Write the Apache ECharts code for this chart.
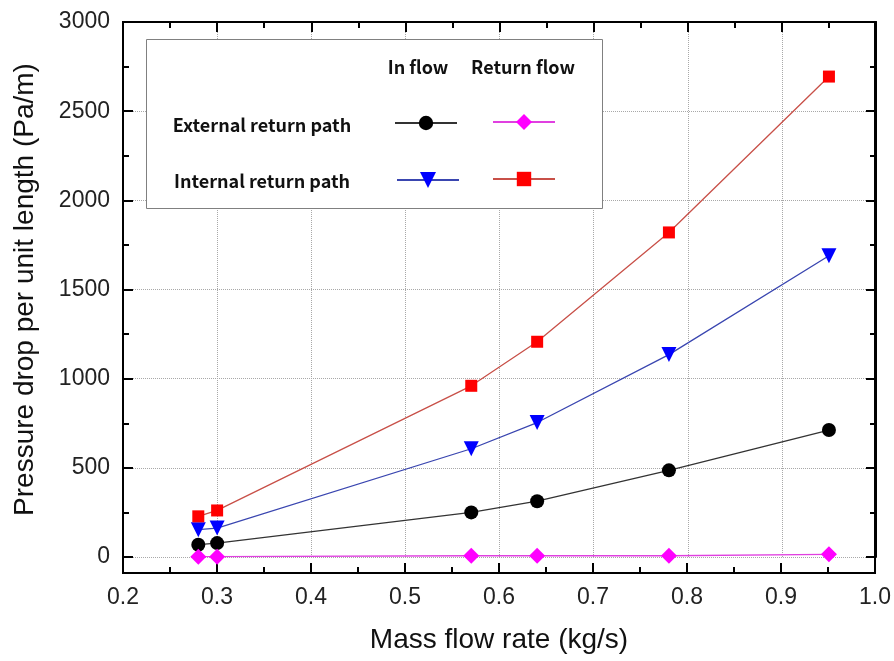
<!DOCTYPE html>
<html>
<head>
<meta charset="utf-8">
<script src="https://cdn.jsdelivr.net/npm/echarts@6/dist/echarts.min.js"></script>
<style>
  html, body { margin: 0; padding: 0; background: #fff; }
  #chart { width: 894px; height: 661px; }
</style>
</head>
<body>
<div id="chart"></div>
<script>
  // data
  const massFlow = [0.28, 0.30, 0.57, 0.64, 0.78, 0.95];
  const extInFlow = [69, 78, 250, 313, 486, 712];
  const extReturnFlow = [2, 2, 7, 7, 7, 15];
  const intInFlow = [153, 162, 607, 754, 1135, 1689];
  const intReturnFlow = [228, 261, 960, 1207, 1820, 2694];

  const legendCols = ['In flow', 'Return flow'];
  const legendRows = ['External return path', 'Internal return path'];

  const tickFont = 'Liberation Sans, Arial, sans-serif';
  const legendFont = '"Noto Sans CJK KR", "Open Sans", sans-serif';

  function pairs(vals) {
    return massFlow.map(function (x, i) { return [x, vals[i]]; });
  }

  function makeSeries(name, vals, symbol, size, markColor, lineColor, rotate) {
    return {
      name: name,
      type: 'line',
      xAxisIndex: 0,
      yAxisIndex: 0,
      data: pairs(vals),
      symbol: symbol,
      symbolSize: size,
      symbolRotate: rotate || 0,
      showAllSymbol: true,
      itemStyle: { color: markColor, opacity: 1 },
      lineStyle: { color: lineColor, width: 1.3 },
      emphasis: { disabled: true },
      z: 3
    };
  }

  // legend: one component per cell of the 2x2 table
  function cellLegend(name, left, top, h) {
    return {
      data: [name],
      left: left,
      top: top,
      padding: 0,
      itemWidth: 62,
      itemHeight: h,
      formatter: function () { return ''; },
      textStyle: { fontSize: 1 },
      selectedMode: false,
      z: 20
    };
  }

  // fresh objects every time, echarts doesn't like axes sharing one
  function ticks() {
    return { show: true, inside: true, length: 10, lineStyle: { color: '#000', width: 2 } };
  }
  function minorTicks() {
    return { show: true, splitNumber: 2, length: 6, lineStyle: { color: '#000', width: 2 } };
  }
  function frameLine() {
    return { show: true, onZero: false, lineStyle: { color: '#000', width: 2 } };
  }
  function gridLine() {
    return { show: true, lineStyle: { type: 'dotted', color: '#a8a8a8', width: 1 } };
  }

  const chart = echarts.init(document.getElementById('chart'));
  const option = {
    animation: false,
    grid: [
      // data area
      { left: 123, right: 18, top: 22, bottom: 104 },
      // outer frame, a bit lower than y = 0
      { left: 123, right: 18, top: 22, bottom: 88, show: true, borderColor: '#000', borderWidth: 2, backgroundColor: 'rgba(0,0,0,0)' }
    ],
    xAxis: [
      {
        type: 'value', gridIndex: 0, position: 'bottom',
        min: 0.2, max: 1.0, interval: 0.1,
        axisLine: { show: false, onZero: false },
        axisTick: { show: false },
        axisLabel: { show: false },
        splitLine: gridLine()
      },
      {
        type: 'value', gridIndex: 0, position: 'top',
        min: 0.2, max: 1.0, interval: 0.1,
        axisLine: frameLine(),
        axisTick: ticks(),
        minorTick: minorTicks(),
        axisLabel: { show: false },
        splitLine: { show: false }
      },
      {
        type: 'value', gridIndex: 1, position: 'bottom',
        min: 0.2, max: 1.0, interval: 0.1,
        name: 'Mass flow rate (kg/s)', nameLocation: 'middle', nameGap: 53,
        nameTextStyle: { fontFamily: tickFont, fontSize: 28, color: '#111' },
        axisLine: frameLine(),
        axisTick: ticks(),
        minorTick: minorTicks(),
        axisLabel: {
          margin: 13, fontFamily: tickFont, fontSize: 23, color: '#222',
          formatter: function (v) { return v.toFixed(1); }
        },
        splitLine: { show: false }
      }
    ],
    yAxis: [
      {
        type: 'value', gridIndex: 0, position: 'left',
        min: 0, max: 3000, interval: 500,
        name: 'Pressure drop per unit length (Pa/m)', nameLocation: 'middle', nameGap: 84,
        nameTextStyle: { fontFamily: tickFont, fontSize: 28, color: '#111' },
        axisLine: frameLine(),
        axisTick: ticks(),
        minorTick: minorTicks(),
        axisLabel: {
          margin: 13, fontFamily: tickFont, fontSize: 23, color: '#222',
          formatter: function (v) { return String(v); }
        },
        splitLine: gridLine()
      },
      {
        type: 'value', gridIndex: 0, position: 'right',
        min: 0, max: 3000, interval: 500,
        axisLine: frameLine(),
        axisTick: ticks(),
        minorTick: minorTicks(),
        axisLabel: { show: false },
        splitLine: { show: false }
      },
      { type: 'value', gridIndex: 1, show: false, min: 0, max: 1 }
    ],
    legend: [
      cellLegend(legendRows[0] + ' / ' + legendCols[0], 394, 114, 18),
      cellLegend(legendRows[0] + ' / ' + legendCols[1], 492, 112, 20),
      cellLegend(legendRows[1] + ' / ' + legendCols[0], 396, 170, 20),
      cellLegend(legendRows[1] + ' / ' + legendCols[1], 492, 170, 18)
    ],
    graphic: [
      { type: 'rect', z: 15, shape: { x: 146.5, y: 39.5, width: 456, height: 169 },
        style: { fill: '#fff', stroke: '#808080', lineWidth: 1 } },
      { type: 'text', z: 16, x: 418, y: 67,
        style: { text: legendCols[0], font: 'bold 18px ' + legendFont, fill: '#111', align: 'center', verticalAlign: 'middle' } },
      { type: 'text', z: 16, x: 523, y: 67,
        style: { text: legendCols[1], font: 'bold 18px ' + legendFont, fill: '#111', align: 'center', verticalAlign: 'middle' } },
      { type: 'text', z: 16, x: 262, y: 125,
        style: { text: legendRows[0], font: 'bold 18px ' + legendFont, fill: '#111', align: 'center', verticalAlign: 'middle' } },
      { type: 'text', z: 16, x: 262, y: 181,
        style: { text: legendRows[1], font: 'bold 18px ' + legendFont, fill: '#111', align: 'center', verticalAlign: 'middle' } }
    ],
    series: [
      makeSeries(legendRows[0] + ' / ' + legendCols[0], extInFlow, 'circle', 14, '#000000', '#333333'),
      makeSeries(legendRows[0] + ' / ' + legendCols[1], extReturnFlow, 'diamond', 16, '#ff00ff', '#e040e0'),
      makeSeries(legendRows[1] + ' / ' + legendCols[0], intInFlow, 'triangle', 15, '#0000ff', '#3a46b0', 180),
      makeSeries(legendRows[1] + ' / ' + legendCols[1], intReturnFlow, 'rect', 12, '#ff0000', '#c85048')
    ]
  };
  chart.setOption(option);
</script>
</body>
</html>
